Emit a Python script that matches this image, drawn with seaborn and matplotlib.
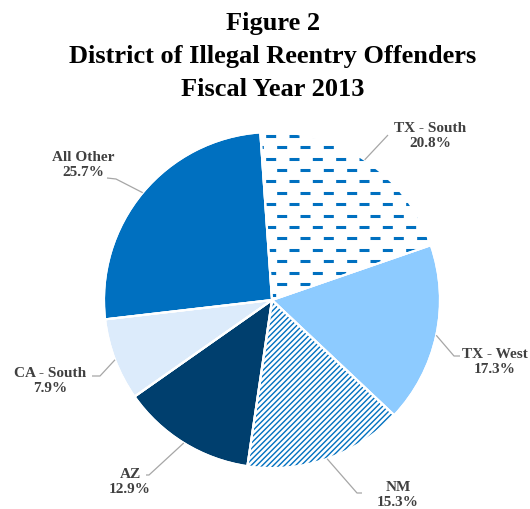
import numpy as np
import matplotlib
matplotlib.use("Agg")
import matplotlib.pyplot as plt
import matplotlib.patches as mpatches
import seaborn as sns

# Share of illegal reentry offenders by district, FY2013 (percent)
districts = ["TX - South", "TX - West", "NM", "AZ", "CA - South", "All Other"]
shares = [20.8, 17.3, 15.3, 12.9, 7.9, 25.7]
slice_colors = ["#FFFFFF", "#8DCBFF", "#FFFFFF", "#003F6E", "#DCEBFB", "#0070C0"]

title_lines = ["Figure 2", "District of Illegal Reentry Offenders", "Fiscal Year 2013"]

sns.set_theme(style="white")
plt.rcParams["font.family"] = ["Liberation Serif", "DejaVu Serif"]
plt.rcParams["hatch.linewidth"] = 1.0
plt.rcParams["lines.scale_dashes"] = False

BLUE = "#0070C0"
LABEL_COLOR = "#404040"
LEADER_COLOR = "#A6A6A6"
W, H = 530, 510          # figure size in pixels
CX, CY = 272, 301        # pie centre in pixels (from top-left)
PX = 168.0               # pie radius in pixels = one data unit


def to_data(px, py):
    """Pixel position (from top-left) to data coordinates."""
    return (px - CX) / PX, (CY - py) / PX


fig = plt.figure(figsize=(W / 100, H / 100), dpi=100)
ax = fig.add_axes([0, 0, 1, 1])

wedges, _ = ax.pie(
    shares,
    colors=sns.color_palette(slice_colors),
    startangle=94,
    counterclock=False,
    radius=1,
    wedgeprops=dict(edgecolor="white", linewidth=1.5),
)
ax.set_xlim(-CX / PX, (W - CX) / PX)
ax.set_ylim(-(H - CY) / PX, CY / PX)
ax.set_aspect("equal")
ax.axis("off")

# NM: dense diagonal hatch in blue
nm = wedges[2]
nm.set_edgecolor(BLUE)
nm.set_linewidth(0)
nm.set_hatch("//////")

# TX - South: staggered horizontal dashes clipped to the wedge
tx_south = wedges[0]
step = 11.4 / PX
period = 23.3 / PX
row_top = (CY - 136.7) / PX
for i in range(16):
    y = row_top - i * step
    x0 = (265 - CX) / PX - 8 * period + (11.7 / PX if i % 2 else 0.0)
    ln, = ax.plot([x0, 1.3], [y, y], color=BLUE, lw=2.2,
                  linestyle=(0, (7.2, 9.6)), dash_capstyle="butt", zorder=2)
    ln.set_clip_path(tx_south)

# white separators drawn over every slice
for w in wedges:
    ax.add_patch(mpatches.Wedge(w.center, w.r, w.theta1, w.theta2, fill=False,
                                edgecolor="white", linewidth=1.5, zorder=3))

# label block centres and leader elbows (pixels)
label_pos = [(430, 136), (495, 362), (398, 495), (130, 482), (50, 381), (83, 165)]
leader_elbow = [(388, 136), (454, 357), (357, 494), (149, 476), (100, 377), (116, 180)]
leader_end = [(388, 136), (460, 357), (362, 494), (146, 476), (92, 377), (107, 179)]

for w, name, val, lp, el, en in zip(wedges, districts, shares, label_pos,
                                    leader_elbow, leader_end):
    mid = np.deg2rad((w.theta1 + w.theta2) / 2)
    rim = (np.cos(mid), np.sin(mid))
    ex, ey = to_data(*el)
    nx, ny = to_data(*en)
    ax.plot([rim[0], ex, nx], [rim[1], ey, ny], color=LEADER_COLOR, lw=0.9,
            solid_capstyle="butt", zorder=4)
    tx, ty = to_data(*lp)
    ax.text(tx, ty, f"{name}\n{val:.1f}%", ha="center", va="center",
            fontsize=11, fontweight="bold", color=LABEL_COLOR,
            linespacing=1.2, zorder=5)

for line, base in zip(title_lines, [30, 63, 96]):
    fig.text(273 / W, 1 - base / H, line, ha="center", va="baseline",
             fontsize=19, fontweight="bold", color="black")

fig.savefig("out.png", dpi=100, facecolor="white")
